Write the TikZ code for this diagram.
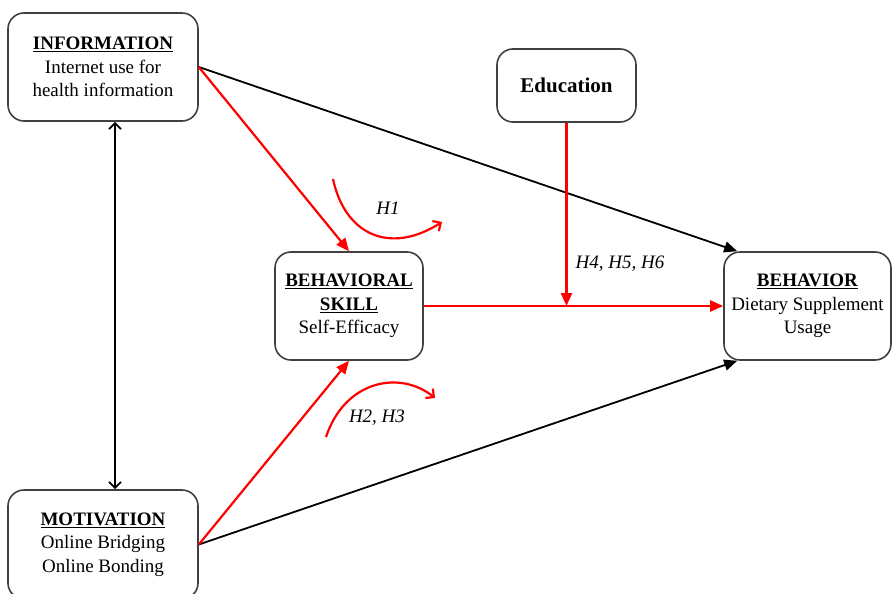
\documentclass[tikz,border=0pt]{standalone}
\usepackage{fontspec}
\setmainfont{Liberation Serif}
\usetikzlibrary{arrows.meta}

\begin{document}
\begin{tikzpicture}[x=1pt, y=-1pt, every node/.style={draw=black!75, line width=1.6pt, rounded corners=16pt, align=center, inner sep=0pt, font=\fontsize{19}{23.5}\selectfont}]
	\tikzstyle{lbl}=[draw=none, font=\fontsize{19}{23}\selectfont\itshape]
	\tikzstyle{blk}=[line width=1.8pt, -{Triangle[length=13pt,width=11pt]}]
	\tikzstyle{rd}=[red, line width=2.2pt, -{Triangle[length=13pt,width=11pt]}]
	\tikzstyle{crv}=[red, line width=2.2pt, -{Straight Barb[length=6pt,width=12pt]}]
	\useasboundingbox (0,0) rectangle (892,594);
	% boxes
	\node[minimum width=190pt, minimum height=108pt] (inf) at (103,67) {\underline{\textbf{INFORMATION}}\\Internet use for\\health information};
	\node[minimum width=190pt, minimum height=109pt] (mot) at (103,544.5) {\underline{\textbf{MOTIVATION}}\\Online Bridging\\Online Bonding};
	\node[minimum width=148pt, minimum height=108pt] (skl) at (349,306) {\underline{\textbf{BEHAVIORAL}}\\\underline{\textbf{SKILL}}\\Self-Efficacy};
	\node[minimum width=167pt, minimum height=108pt] (beh) at (807.5,306) {\underline{\textbf{BEHAVIOR}}\\Dietary Supplement\\Usage};
	\node[minimum width=139pt, minimum height=73pt, font=\fontsize{21}{25}\selectfont\bfseries] (edu) at (566.5,85.5) {Education};
	\coordinate (jn) at (edu.south |- skl.east);
	% arrows
	\draw[blk] (inf.east) -- ([xshift=14pt]beh.north west);
	\draw[blk] (mot.east) -- ([xshift=14pt]beh.south west);
	\draw[line width=1.8pt, {Straight Barb[length=6pt,width=12pt]}-{Straight Barb[length=6pt,width=12pt]}] ([xshift=12pt]inf.south) -- ([xshift=12pt]mot.north);
	\draw[rd] (inf.east) -- (skl.north);
	\draw[rd] (mot.east) -- (skl.south);
	\draw[rd] (skl.east) -- (beh.west);
	\draw[rd] (edu.south) -- (jn);
	\draw[crv] (333,179) .. controls (345,235) and (390,255) .. (442,222);
	\draw[crv] (326,437) .. controls (345,380) and (400,370) .. (435,398);
	% labels
	\node[lbl] (h1) at (388,208) {H1};
	\node[lbl] (h23) at (377,418) {H2, H3};
	\node[lbl] (h456) at (620,264) {H4, H5, H6};
\end{tikzpicture}
\end{document}
